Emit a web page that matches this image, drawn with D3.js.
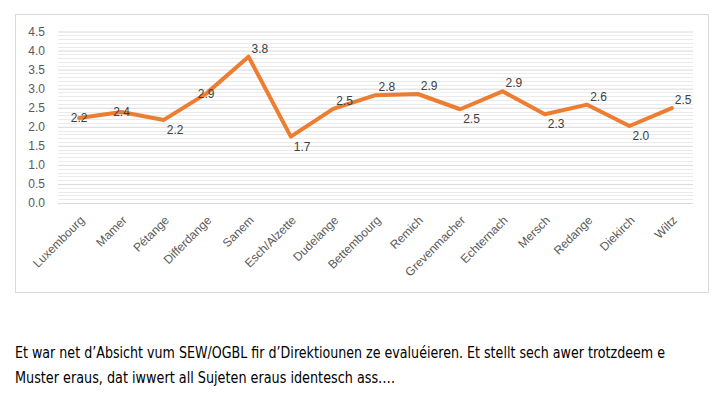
<!DOCTYPE html>
<html>
<head>
<meta charset="utf-8">
<script src="https://cdn.jsdelivr.net/npm/d3@7"></script>
<style>
  html, body { margin: 0; padding: 0; background: #fff; }
  svg { display: block; }
  .tick-label { font-family: "Liberation Sans", Arial, sans-serif; font-size: 12px; fill: #595959; }
  .val-label { font-family: "Liberation Sans", Arial, sans-serif; font-size: 12px; fill: #404040; }
  .caption { font-family: "Liberation Sans Narrow", "DejaVu Sans Condensed", "Open Sans", sans-serif; font-size: 15px; fill: #000; }
</style>
</head>
<body>
<svg id="chart" width="722" height="393"></svg>
<script>
// communes and their scores
const communes = ["Luxembourg", "Mamer", "Pétange", "Differdange", "Sanem", "Esch/Alzette",
  "Dudelange", "Bettembourg", "Remich", "Grevenmacher", "Echternach", "Mersch",
  "Redange", "Diekirch", "Wiltz"];
const scores = [2.23, 2.39, 2.18, 2.87, 3.84, 1.74, 2.47, 2.83, 2.86, 2.46, 2.93, 2.33, 2.58, 2.02, 2.49];
// where each data label sits relative to its point
const labelSide = ["mid", "mid", "below", "mid", "above", "below", "above", "above", "above",
  "below", "above", "below", "above", "below", "above"];
const yTicks = [0, 0.5, 1, 1.5, 2, 2.5, 3, 3.5, 4, 4.5];
const captionLines = [
  "Et war net d\u2019Absicht vum SEW/OGBL fir d\u2019Direktiounen ze evaluéieren. Et stellt sech awer trotzdeem e",
  "Muster eraus, dat iwwert all Sujeten eraus identesch ass\u2026."
];

const svg = d3.select("#chart");

// chart frame
svg.append("rect")
  .attr("x", 15.5).attr("y", 14.5)
  .attr("width", 693).attr("height", 278)
  .attr("fill", "#fff")
  .attr("stroke", "#d9d9d9");

// scales
const x = d3.scaleBand().domain(communes).range([58, 693]);
const y = d3.scaleLinear().domain([0, 4.5]).range([203, 31.5]);
const cx = (d) => x(d) + x.bandwidth() / 2;

// minor grid every 0.1
const minor = d3.range(1, 45).filter((i) => i % 5 !== 0).map((i) => i / 10);
svg.append("g")
  .selectAll("line")
  .data(minor)
  .join("line")
  .attr("x1", 58).attr("x2", 693)
  .attr("y1", (d) => Math.round(y(d)) + 0.5)
  .attr("y2", (d) => Math.round(y(d)) + 0.5)
  .attr("stroke", "#eaeaea");

// major grid + y labels
const yAx = d3.axisLeft(y).tickValues(yTicks).tickSize(-635).tickPadding(13)
  .tickFormat(d3.format(".1f"));
const yG = svg.append("g").attr("transform", "translate(58,0)").call(yAx);
yG.select(".domain").remove();
yG.selectAll(".tick line").attr("stroke", "#d9d9d9");
yG.selectAll(".tick text").attr("class", "tick-label");

// rotated category labels
svg.append("g")
  .selectAll("text")
  .data(communes)
  .join("text")
  .attr("class", "tick-label")
  .attr("text-anchor", "end")
  .attr("transform", (d) => `translate(${cx(d) + 6},${221}) rotate(-45)`)
  .text((d) => d);

// line
const line = d3.line()
  .x((d, i) => cx(communes[i]))
  .y((d) => y(d));
svg.append("path")
  .datum(scores)
  .attr("fill", "none")
  .attr("stroke", "#ED7D31")
  .attr("stroke-width", 4)
  .attr("stroke-linejoin", "round")
  .attr("stroke-linecap", "round")
  .attr("d", line);

// data labels
svg.append("g")
  .selectAll("text")
  .data(scores)
  .join("text")
  .attr("class", "val-label")
  .attr("text-anchor", (d, i) => (labelSide[i] === "mid" ? "middle" : "start"))
  .attr("x", (d, i) => cx(communes[i]) + (labelSide[i] === "mid" ? 0 : 3))
  .attr("y", (d, i) => {
    const s = labelSide[i];
    if (s === "above") return y(d) - 4;
    if (s === "below") return y(d) + 14;
    return y(d) + 4;
  })
  .text((d) => d.toFixed(1));

// caption below chart
svg.append("g")
  .selectAll("text")
  .data(captionLines)
  .join("text")
  .attr("class", "caption")
  .attr("x", 15)
  .attr("y", (d, i) => 358 + i * 25)
  .attr("textLength", (d, i) => (i === 0 ? 650 : 380))
  .attr("lengthAdjust", "spacingAndGlyphs")
  .text((d) => d);
</script>
</body>
</html>
